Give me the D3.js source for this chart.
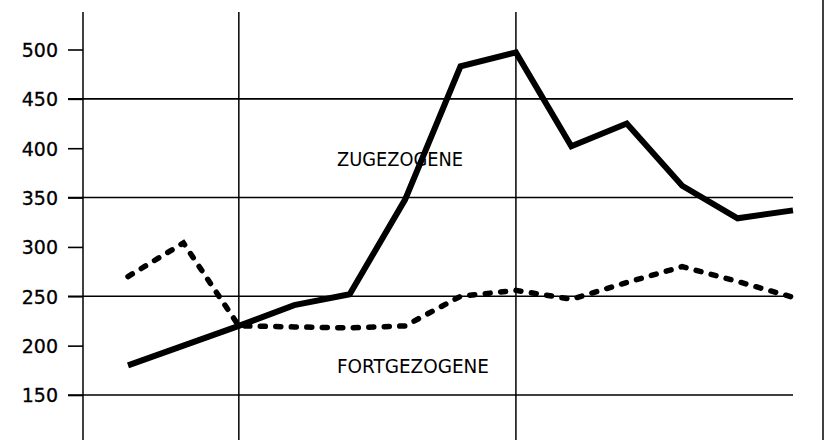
<!DOCTYPE html>
<html>
<head>
<meta charset="utf-8">
<script src="https://cdn.jsdelivr.net/npm/d3@7"></script>
<style>
body { margin: 0; background: #fff; }
svg { display: block; }
</style>
</head>
<body>
<svg width="825" height="440"></svg>
<script>
var periods = [1, 2, 3, 4, 5, 6, 7, 8, 9, 10, 11, 12, 13]
var zugezogene = [180, 200, 220, 241, 252, 348, 483, 497, 402, 425, 362, 329, 337]
var fortgezogene = [270, 304, 220, 219, 218, 220, 250, 256, 247, 264, 280, 265, 249]
var yTicks = [150, 200, 250, 300, 350, 400, 450, 500]
var yGrid = [150, 250, 350, 450]
var xGrid = [3, 8]

var svg = d3.select('svg')

var x = d3.scaleLinear().domain([1, 13]).range([128, 793])
var y = d3.scaleLinear().domain([150, 500]).range([395, 49.5])

// vertical lines
svg.selectAll('.vline')
.data(xGrid)
.enter().append('line')
.attr('x1', function (d) { return x(d) })
.attr('x2', function (d) { return x(d) })
.attr('y1', 12)
.attr('y2', 440)
.attr('stroke', '#000')
.attr('stroke-width', 1.5)

// right border
svg.append('line')
.attr('x1', 823).attr('x2', 823)
.attr('y1', 0).attr('y2', 440)
.attr('stroke', '#000')
.attr('stroke-width', 1.5)

// horizontal grid
svg.selectAll('.hline')
.data(yGrid)
.enter().append('line')
.attr('x1', 68)
.attr('x2', x(13))
.attr('y1', function (d) { return y(d) })
.attr('y2', function (d) { return y(d) })
.attr('stroke', '#000')
.attr('stroke-width', 1.6)

// y axis
var axis = svg.append('g')
.attr('transform', 'translate(83,0)')
.call(d3.axisLeft(y).tickValues(yTicks).tickSize(15).tickPadding(10).tickFormat(d3.format('d')))

axis.select('.domain').remove()
axis.append('line')
.attr('x1', 0).attr('x2', 0)
.attr('y1', 12).attr('y2', 440)
.attr('stroke', '#000')
.attr('stroke-width', 1.5)
axis.selectAll('.tick line').attr('stroke-width', 1.6)
axis.selectAll('.tick text')
.attr('font-family', 'DejaVu Sans, sans-serif')
.attr('font-size', 19)
.attr('fill', '#000')
.attr('stroke', '#000')
.attr('stroke-width', 0.3)
.attr('dy', '0.36em')

var line = d3.line()
.x(function (d, i) { return x(periods[i]) })
.y(function (d) { return y(d) })

svg.append('path')
.datum(fortgezogene)
.attr('d', line)
.attr('fill', 'none')
.attr('stroke', '#000')
.attr('stroke-width', 5.5)
.attr('stroke-linecap', 'round')
.attr('stroke-dasharray', '5,10.5')

svg.append('path')
.datum(zugezogene)
.attr('d', line)
.attr('fill', 'none')
.attr('stroke', '#000')
.attr('stroke-width', 6)
.attr('stroke-linejoin', 'miter')

svg.append('text')
.attr('x', 337).attr('y', 166)
.attr('textLength', 126)
.attr('lengthAdjust', 'spacingAndGlyphs')
.attr('font-family', 'DejaVu Sans Condensed, DejaVu Sans, sans-serif')
.attr('font-size', 20)
.text('ZUGEZOGENE')

svg.append('text')
.attr('x', 337).attr('y', 373)
.attr('textLength', 152)
.attr('lengthAdjust', 'spacingAndGlyphs')
.attr('font-family', 'DejaVu Sans Condensed, DejaVu Sans, sans-serif')
.attr('font-size', 20)
.text('FORTGEZOGENE')
</script>
</body>
</html>
